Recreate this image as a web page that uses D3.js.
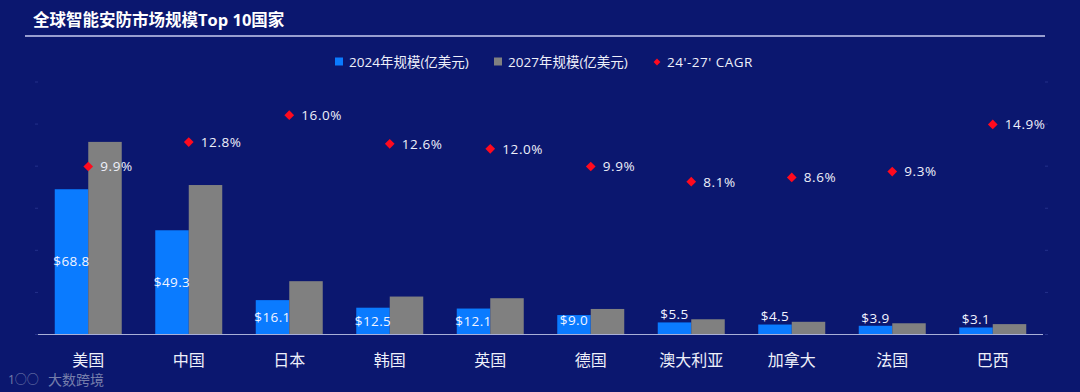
<!DOCTYPE html>
<html><head><meta charset="utf-8">
<script src="https://cdn.jsdelivr.net/npm/d3@7/dist/d3.min.js"></script>
<style>
html,body{margin:0;padding:0;background:#0b176f;}
svg{display:block;font-family:"Open Sans","Noto Sans CJK SC",sans-serif;}
</style></head>
<body><svg id="c" width="1080" height="392"></svg>
<script>
const categories = ["美国","中国","日本","韩国","英国","德国","澳大利亚","加拿大","法国","巴西"];
const size2024 = [68.8,49.3,16.1,12.5,12.1,9.0,5.5,4.5,3.9,3.1];
const size2027 = [91.3,70.8,25.1,17.8,17.0,11.9,7.0,5.8,5.1,4.7];
const cagr = [9.9,12.8,16.0,12.6,12.0,9.9,8.1,8.6,9.3,14.9];
const leftTicks = [0,20,40,60,80,100,120];
const rightTicks = [-10,-5,0,5,10,15,20];
const legendLabels = ["2024年规模(亿美元)","2027年规模(亿美元)","24'-27' CAGR"];

const svg = d3.select("#c");
svg.append("rect").attr("width",1080).attr("height",392).attr("fill","#0b176f");

// title
svg.append("text").attr("x",33).attr("y",26).attr("fill","#ffffff")
  .attr("font-size",16.5).attr("font-weight","bold").text("全球智能安防市场规模Top 10国家");
svg.append("line").attr("x1",25).attr("x2",1045).attr("y1",36).attr("y2",36)
  .attr("stroke","#c9cdf0").attr("stroke-width",1.5);

const L=38,R=1043,B=334,T=81.5;
const x0 = d3.scaleBand().domain(categories).range([L,R]).padding(0);
const x1 = d3.scaleBand().domain(["a","b"]).range([x0.bandwidth()/6, x0.bandwidth()*5/6]).padding(0);
const y = d3.scaleLinear().domain([0,120]).range([B,T]);
const y2 = d3.scaleLinear().domain([-10,20]).range([B,T]);

// faint axis ticks
const la = svg.append("g").attr("transform",`translate(${L},0)`)
  .call(d3.axisLeft(y).tickValues(leftTicks).tickSize(3).tickFormat(""));
la.select(".domain").remove();
la.selectAll("line").attr("stroke","#24318a");
const ra = svg.append("g").attr("transform",`translate(${R+2},0)`)
  .call(d3.axisRight(y2).tickValues(rightTicks).tickSize(3).tickFormat(""));
ra.select(".domain").remove();
ra.selectAll("line").attr("stroke","#24318a");

// bars
const g = svg.append("g");
categories.forEach((c,i)=>{
  const gx = x0(c);
  g.append("rect").attr("x",gx+x1("a")).attr("y",y(size2024[i]))
    .attr("width",x1.bandwidth()).attr("height",B-y(size2024[i])).attr("fill","#0a7bff");
  g.append("rect").attr("x",gx+x1("b")).attr("y",y(size2027[i]))
    .attr("width",x1.bandwidth()).attr("height",B-y(size2027[i])).attr("fill","#808080");
});
// baseline
svg.append("line").attr("x1",L).attr("x2",R).attr("y1",B+0.5).attr("y2",B+0.5)
  .attr("stroke","#aab0d8").attr("stroke-width",1.2);

// value labels
categories.forEach((c,i)=>{
  const cx = x0(c)+x1("a")+x1.bandwidth()/2;
  const v = size2024[i];
  const top = y(v);
  let cy = v>=9 ? (top+B)/2 - (v<10?4:0) : top-8;
  svg.append("text").attr("x",cx).attr("y",cy).attr("dy","0.36em")
    .attr("text-anchor","middle").attr("fill","#f2f4ff").attr("font-size",13.5)
    .attr("letter-spacing",0.4).text("$"+v.toFixed(1));
});

// CAGR diamonds
const diamond = d3.symbol().type(d3.symbolDiamond2).size(60);
categories.forEach((c,i)=>{
  const cx = x0(c)+x0.bandwidth()/2;
  const cy = y2(cagr[i]);
  svg.append("path").attr("d",diamond()).attr("transform",`translate(${cx},${cy})`)
    .attr("fill","#ff0a1e");
  svg.append("text").attr("x",cx+12).attr("y",cy).attr("dy","0.36em")
    .attr("fill","#eef0fa").attr("font-size",13.5).attr("letter-spacing",0.6).text(cagr[i].toFixed(1)+"%");
});

// category labels
categories.forEach(c=>{
  svg.append("text").attr("x",x0(c)+x0.bandwidth()/2).attr("y",360).attr("dy","0.36em")
    .attr("text-anchor","middle").attr("fill","#eef0fa").attr("font-size",16).text(c);
});

// legend
const lg = svg.append("g");
lg.append("rect").attr("x",335).attr("y",57.5).attr("width",8).attr("height",8).attr("fill","#0a7bff");
lg.append("text").attr("x",349).attr("y",62).attr("dy","0.36em").attr("fill","#eef0fa").attr("font-size",13.5).text(legendLabels[0]);
lg.append("rect").attr("x",494).attr("y",57.5).attr("width",8).attr("height",8).attr("fill","#808080");
lg.append("text").attr("x",508).attr("y",62).attr("dy","0.36em").attr("fill","#eef0fa").attr("font-size",13.5).text(legendLabels[1]);
lg.append("path").attr("d",d3.symbol().type(d3.symbolDiamond2).size(30)()).attr("transform","translate(657,62)").attr("fill","#ff0a1e");
lg.append("text").attr("x",667).attr("y",62).attr("dy","0.36em").attr("fill","#eef0fa").attr("font-size",13.5).attr("letter-spacing",0.5).text(legendLabels[2]);

// watermark
svg.append("text").attr("x",48).attr("y",380).attr("dy","0.36em").attr("fill","#9aa0c0").attr("opacity",0.75)
  .attr("font-size",14).text("大数跨境");
svg.append("text").attr("x",8).attr("y",380).attr("dy","0.36em").attr("fill","#9aa0c0").attr("opacity",0.75)
  .attr("font-size",12).text("1○○");
</script></body></html>
